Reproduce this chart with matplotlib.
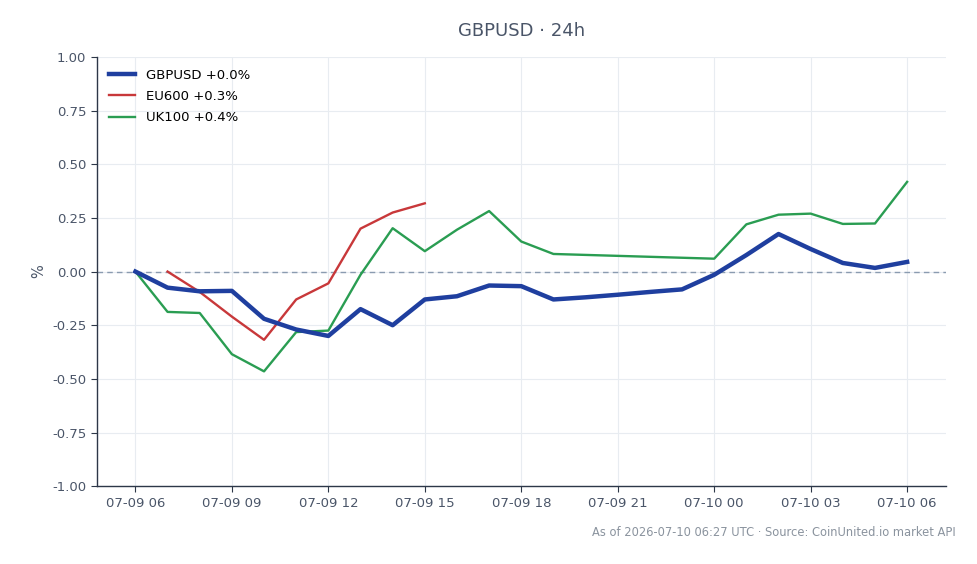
import matplotlib
matplotlib.use("Agg")
import matplotlib.pyplot as plt
import matplotlib.dates as mdates
import pandas as pd

# Hourly timestamps (UTC)
gbp_times = ["2026-07-09 06:00", "2026-07-09 07:00", "2026-07-09 08:00", "2026-07-09 09:00",
             "2026-07-09 10:00", "2026-07-09 11:00", "2026-07-09 12:00", "2026-07-09 13:00",
             "2026-07-09 14:00", "2026-07-09 15:00", "2026-07-09 16:00", "2026-07-09 17:00",
             "2026-07-09 18:00", "2026-07-09 19:00", "2026-07-09 20:00", "2026-07-09 21:00",
             "2026-07-09 22:00", "2026-07-09 23:00", "2026-07-10 00:00", "2026-07-10 01:00",
             "2026-07-10 02:00", "2026-07-10 03:00", "2026-07-10 04:00", "2026-07-10 05:00",
             "2026-07-10 06:00"]
gbp_values = [0.0, -0.075, -0.092, -0.09, -0.22, -0.27, -0.30, -0.175, -0.25, -0.13,
              -0.115, -0.065, -0.068, -0.13, -0.12, -0.108, -0.095, -0.083, -0.015, 0.077,
              0.175, 0.105, 0.04, 0.017, 0.045]

eu_times = ["2026-07-09 07:00", "2026-07-09 08:00", "2026-07-09 09:00", "2026-07-09 10:00",
            "2026-07-09 11:00", "2026-07-09 12:00", "2026-07-09 13:00", "2026-07-09 14:00",
            "2026-07-09 15:00"]
eu_values = [0.0, -0.095, -0.21, -0.318, -0.13, -0.055, 0.20, 0.275, 0.318]

uk_times = ["2026-07-09 06:00", "2026-07-09 07:00", "2026-07-09 08:00", "2026-07-09 09:00",
            "2026-07-09 10:00", "2026-07-09 11:00", "2026-07-09 12:00", "2026-07-09 13:00",
            "2026-07-09 14:00", "2026-07-09 15:00", "2026-07-09 16:00", "2026-07-09 17:00",
            "2026-07-09 18:00", "2026-07-09 19:00", "2026-07-10 00:00", "2026-07-10 01:00",
            "2026-07-10 02:00", "2026-07-10 03:00", "2026-07-10 04:00", "2026-07-10 05:00",
            "2026-07-10 06:00"]
uk_values = [0.0, -0.188, -0.193, -0.385, -0.465, -0.282, -0.275, -0.015, 0.202, 0.095,
             0.195, 0.282, 0.14, 0.082, 0.06, 0.22, 0.265, 0.27, 0.222, 0.224, 0.418]

labels = ["GBPUSD +0.0%", "EU600 +0.3%", "UK100 +0.4%"]
title = "GBPUSD · 24h"
footer = "As of 2026-07-10 06:27 UTC · Source: CoinUnited.io market API"

text_color = "#4a5568"

fig = plt.figure(figsize=(9.78, 5.64), dpi=100)
ax = fig.add_axes([0.099, 0.138, 0.868, 0.761])

ax.plot(pd.to_datetime(gbp_times), gbp_values, color="#1f3f9f", lw=3.2, label=labels[0], zorder=4)
ax.plot(pd.to_datetime(eu_times), eu_values, color="#c8383a", lw=1.7, label=labels[1], zorder=3)
ax.plot(pd.to_datetime(uk_times), uk_values, color="#2a9d52", lw=1.7, label=labels[2], zorder=3)
ax.axhline(0, color="#8a9bb0", lw=1.0, ls=(0, (4, 3)), zorder=2)

ax.set_ylim(-1.0, 1.0)
ax.set_yticks([-1.0, -0.75, -0.5, -0.25, 0.0, 0.25, 0.5, 0.75, 1.0])
ax.yaxis.set_major_formatter(matplotlib.ticker.FormatStrFormatter("%.2f"))
ax.xaxis.set_major_locator(mdates.HourLocator(byhour=range(0, 24, 3)))
ax.xaxis.set_major_formatter(mdates.DateFormatter("%m-%d %H"))
ax.margins(x=0.05)

ax.grid(True, color="#e8ecf1", lw=0.8, zorder=0)
ax.set_axisbelow(True)
for s in ["top", "right"]:
    ax.spines[s].set_visible(False)
for s in ["left", "bottom"]:
    ax.spines[s].set_color("#2d3748")
    ax.spines[s].set_linewidth(1.0)
ax.tick_params(colors=text_color, labelsize=9.5, length=4)
ax.tick_params(axis="both", colors="#2d3748", labelcolor=text_color)
ax.set_ylabel("%", color=text_color, fontsize=10.5)

ax.set_title(title, color=text_color, fontsize=13, pad=15)

leg = ax.legend(loc="upper left", frameon=False, fontsize=9.5, handlelength=2.0,
                labelspacing=0.62, borderaxespad=0.5)

fig.text(0.977, 0.055, footer, ha="right", va="center", color="#8a939e", fontsize=8.3)

fig.savefig("out.png", dpi=100)
